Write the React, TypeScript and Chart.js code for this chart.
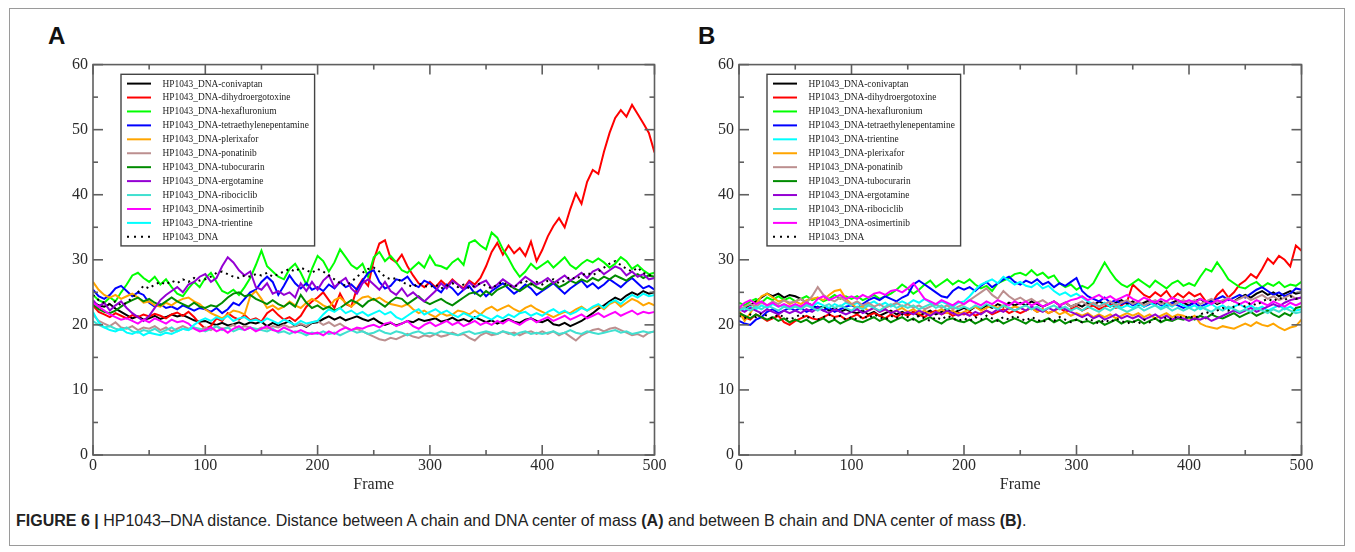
import React, { useEffect, useRef } from "react";
import { Chart, registerables } from "chart.js";

Chart.register(...registerables);

// ---------- categories ----------
const FRAME_STEP = 5;
const frames: number[] = Array.from({ length: 101 }, (_, i) => i * FRAME_STEP);
const xTicks = [0, 100, 200, 300, 400, 500];
const yTicks = [0, 10, 20, 30, 40, 50, 60];

// ---------- Panel A series (frames 0..500 step 5) ----------
const aConivaptan = [
  23.5, 23.0, 22.8, 23.2, 22.5, 22.0, 21.5, 21.0, 21.3, 20.8,
  21.0, 21.4, 20.9, 21.2, 21.6, 21.3, 21.5, 21.1, 20.7, 20.5,
  20.6, 20.2, 20.0, 20.3, 19.9, 20.1, 20.4, 20.0, 20.4, 20.2,
  20.5, 19.8, 20.3, 19.9, 20.2, 20.6, 19.8, 20.1, 19.7, 20.3,
  20.4, 20.9, 21.3, 20.8, 21.2, 20.7, 21.0, 21.3, 20.9, 20.6,
  21.0, 20.4, 20.0, 20.3, 19.9, 20.2, 20.6, 20.4, 20.9, 20.6,
  20.8, 21.0, 20.5, 20.7, 21.1, 20.6, 20.9, 20.5, 21.2, 20.8,
  20.4, 20.7, 20.2, 20.6, 20.9, 20.5, 20.3, 20.8, 21.0, 20.6,
  20.4, 20.8, 20.1, 19.9, 20.3, 19.8, 20.2, 20.6, 21.2, 21.8,
  22.5, 23.0, 23.6, 24.2, 23.8, 24.5, 25.0, 24.6, 25.2, 24.8,
  25.0,
];
const aDihydroergotoxine = [
  23.0, 22.0, 21.6, 21.2, 21.8, 21.4, 21.0, 21.5, 21.2, 21.6,
  21.3, 21.7, 21.4, 21.0, 21.6, 21.9, 21.4, 22.0, 21.2, 20.2,
  19.4, 19.8, 21.0, 20.6, 21.8, 21.2, 20.8, 21.5, 20.7, 21.0,
  20.5, 21.8, 22.4, 21.5, 20.8, 21.2, 20.6, 21.4, 22.8, 23.6,
  24.2, 25.0, 23.8, 22.6, 24.8, 23.2, 22.8, 25.6, 27.0, 26.0,
  30.0, 32.5, 33.0, 30.2, 29.6, 30.8, 29.0, 27.6, 26.4, 25.8,
  26.6, 25.8, 26.8, 26.0, 27.0, 26.2, 25.6, 26.8, 26.2, 27.2,
  29.0, 31.2, 32.6, 30.8, 32.2, 31.0, 31.8, 30.6, 32.8, 29.8,
  31.5, 33.6, 35.2, 36.4, 35.0, 37.8, 40.2, 38.6, 42.0, 43.8,
  43.2, 46.6, 49.5, 51.8, 53.0, 52.0, 53.8, 52.4, 51.0, 49.5,
  46.5,
];
const aHexafluronium = [
  24.6, 23.8, 23.4, 24.2, 23.6, 25.0, 26.2, 27.6, 28.0, 27.2,
  26.6, 27.4, 26.2, 27.0, 25.8, 24.8, 24.4, 25.6, 26.6, 25.8,
  27.2, 28.0, 26.6, 25.2, 24.8, 25.4, 24.6, 25.8, 27.2, 29.2,
  31.4, 29.0, 28.2, 27.4, 27.0, 28.6, 29.4, 28.0, 26.2, 28.6,
  30.6, 29.8, 28.2, 29.6, 31.6, 30.4, 29.2, 28.6, 29.4, 27.4,
  30.4, 31.2, 29.8, 30.6, 29.6, 28.4, 28.0, 28.8, 29.6, 28.8,
  30.6, 29.2, 29.0, 28.6, 29.6, 30.2, 29.2, 32.6, 33.0, 32.2,
  31.6, 34.2, 33.4, 31.6, 30.2, 28.6, 27.4, 28.2, 29.4, 28.6,
  29.2, 29.8, 28.8, 29.6, 30.4, 29.2, 28.6, 29.4, 30.0, 29.6,
  30.2, 29.6, 28.8, 29.4, 30.4, 29.8, 28.6, 29.2, 28.4, 27.8,
  28.0,
];
const aTetraethylenepentamine = [
  25.4, 24.4, 24.0, 24.6, 25.6, 26.0, 25.2, 24.4, 25.0, 24.6,
  23.4, 22.8, 23.2, 22.6, 22.8, 22.4, 23.0, 22.6, 22.2, 22.6,
  22.4, 22.0, 22.6, 21.8, 22.4, 23.4, 23.0, 24.0, 25.0, 25.4,
  26.6, 27.4, 26.6, 24.6, 26.0, 27.6, 26.4, 25.6, 26.4, 25.4,
  25.8, 25.2, 26.2, 25.6, 26.6, 25.8, 26.2, 25.4, 26.8, 28.0,
  28.4, 26.6, 25.6, 26.0, 27.0, 26.8, 27.4, 26.2, 25.8, 26.8,
  26.4, 25.6, 25.0, 26.2, 25.6, 24.6, 25.4, 26.0, 24.8, 25.4,
  24.4, 25.2, 25.8, 26.4, 25.6, 24.8, 25.4, 26.2, 25.6, 24.6,
  25.2, 25.8, 26.4, 25.6, 24.8, 25.6, 26.2, 26.8, 25.8, 26.4,
  25.6, 26.2, 27.0, 26.4, 25.8, 26.6, 27.2, 26.4, 25.6, 26.0,
  25.4,
];
const aPlerixafor = [
  26.6, 25.4, 24.6, 24.2, 24.6, 24.0, 24.4, 24.8, 24.2, 23.4,
  23.6, 23.0, 22.8, 23.4, 23.0, 23.6, 24.0, 24.2, 23.6, 23.2,
  22.4, 21.8, 21.4, 21.0, 21.6, 22.2, 22.0, 21.6, 24.4, 25.2,
  24.0, 22.6, 23.0, 22.4, 22.8, 23.6, 23.0, 22.6, 23.4, 24.0,
  23.6, 23.0, 22.6, 23.8, 24.2, 23.4, 22.8, 23.6, 24.2, 24.4,
  23.8, 24.2, 23.6, 23.2, 23.0, 22.8, 23.2, 22.4, 21.8, 22.2,
  21.6, 21.2, 21.8, 21.4, 21.6, 22.2, 22.0, 21.6, 22.2, 21.6,
  22.4, 22.8, 22.2, 22.6, 23.0, 22.4, 22.0, 22.6, 23.0, 22.4,
  22.0, 21.6, 21.2, 21.6, 22.0, 21.8, 22.4, 22.8, 22.2, 22.6,
  23.0, 22.4, 23.2, 23.6, 22.8, 23.4, 24.0, 23.6, 23.0, 23.4,
  23.0,
];
const aPonatinib = [
  21.6, 20.6, 20.2, 19.8, 20.4, 19.6, 19.4, 19.8, 19.2, 19.6,
  19.4, 19.8, 19.2, 19.6, 19.0, 19.4, 19.8, 19.4, 19.6, 19.2,
  19.6, 19.2, 19.8, 19.4, 19.6, 20.0, 19.4, 19.8, 19.6, 19.2,
  19.6, 19.4, 19.8, 19.6, 20.0, 19.6, 19.8, 20.2, 19.8, 20.4,
  20.6, 20.0, 20.4, 19.8, 20.2, 19.6, 19.2, 19.4, 19.0, 18.6,
  18.2, 17.8, 17.6, 18.0, 17.8, 18.2, 18.6, 18.2, 18.0, 18.4,
  18.2, 18.6, 18.2, 18.4, 18.8, 18.4, 18.6, 18.0, 17.6, 18.4,
  18.8, 18.4, 18.6, 19.0, 18.6, 18.8, 18.4, 18.8, 19.0, 18.6,
  19.0, 18.6, 19.0, 18.4, 18.8, 18.2, 17.6, 18.4, 18.8, 19.2,
  19.4, 19.0, 19.4, 19.6, 19.2, 18.8, 18.4, 18.6, 18.2, 18.8,
  19.0,
];
const aTubocurarin = [
  23.2, 22.4, 22.0, 21.8, 22.2, 22.8, 23.4, 23.8, 24.2, 23.6,
  24.0, 23.4, 23.0, 23.6, 24.2, 23.6, 23.2, 22.8, 23.4, 22.8,
  22.6, 23.0, 22.8, 23.4, 24.2, 24.8, 25.0, 24.4, 24.6, 24.0,
  23.6, 23.2, 23.8, 23.2, 22.8, 23.4, 22.8, 24.6, 23.4, 22.6,
  23.0, 22.4, 22.8, 22.2, 22.6, 23.2, 23.8, 23.4, 22.8, 23.6,
  24.0, 23.4, 22.8, 23.6, 24.2, 24.0, 23.2, 23.8, 24.4, 23.6,
  23.2, 23.6, 24.0, 23.4, 23.0, 23.6, 24.2, 24.8, 25.0, 24.4,
  25.2, 24.6, 25.4, 25.8, 26.2, 25.6, 25.2, 25.8, 26.4, 25.8,
  25.4, 26.0, 26.6, 25.8, 26.2, 26.8, 26.4, 27.0, 26.6, 27.2,
  26.8, 27.4, 27.0, 27.6, 27.2, 26.8, 27.4, 27.8, 27.2, 27.6,
  27.4,
];
const aErgotamine = [
  23.8, 22.8, 23.4, 22.2, 23.0, 23.6, 22.6, 21.8, 21.2, 20.6,
  21.4, 22.6, 23.8, 24.6, 25.2, 25.8, 25.0, 26.2, 26.6, 27.4,
  27.8, 26.6, 27.2, 29.0, 30.4, 29.6, 28.4, 27.6, 28.2, 25.8,
  25.4, 26.4, 24.8, 25.2, 24.6, 25.0, 24.2, 26.4, 25.2, 26.6,
  25.4, 26.8, 27.6, 25.8, 26.6, 27.2, 25.6, 24.8, 26.4, 27.0,
  26.2, 25.4, 26.6, 25.2, 24.6, 25.6, 24.4, 25.0, 24.2, 23.6,
  24.4, 25.2, 26.4, 25.6, 26.8, 26.2, 25.4, 26.6, 25.8, 26.4,
  26.8, 25.6, 26.2, 27.0, 26.4, 25.8, 26.6, 27.4, 26.8, 26.2,
  26.6, 27.2, 26.4, 27.0, 27.6, 26.8, 27.4, 28.0, 27.2, 28.2,
  28.6, 27.8, 28.4, 29.0, 28.6, 27.6, 28.2, 27.4, 27.8, 27.0,
  27.2,
];
const aRibociclib = [
  20.6, 20.0, 19.6, 19.8, 19.4, 19.2, 19.6, 19.0, 18.8, 19.2,
  19.0, 19.4, 18.8, 19.2, 19.6, 19.0, 19.4, 19.2, 19.6, 19.4,
  19.0, 19.4, 19.8, 19.2, 19.6, 19.0, 19.4, 19.2, 19.6, 19.4,
  19.2, 19.0, 19.4, 18.8, 19.0, 18.6, 19.0, 18.8, 18.4, 18.8,
  18.6, 19.0, 18.6, 18.8, 18.4, 18.8, 19.2, 18.8, 19.0, 18.6,
  18.8, 19.2, 18.8, 18.6, 19.0, 18.8, 18.4, 18.8, 19.0, 18.6,
  18.8, 18.6, 19.0, 18.8, 18.6, 18.4, 18.8, 19.0, 18.6, 18.8,
  19.0, 18.8, 18.6, 19.0, 18.8, 18.4, 18.8, 19.0, 18.6, 18.8,
  18.6, 18.8, 19.0, 18.6, 18.8, 19.2, 18.8, 18.6, 19.0, 18.8,
  18.6, 18.8, 19.0, 19.2, 18.8, 19.0, 18.6, 18.8, 19.0, 18.8,
  19.0,
];
const aOsimertinib = [
  23.4, 22.8, 22.2, 21.6, 21.2, 20.8, 21.0, 20.6, 20.2, 20.8,
  20.4, 21.0, 20.6, 20.2, 20.8, 20.4, 20.6, 20.2, 19.4, 19.0,
  19.2, 19.6, 19.0, 19.4, 18.8, 19.4, 19.8, 19.2, 19.6, 19.0,
  19.4, 19.8, 19.2, 19.0, 19.6, 19.2, 18.8, 19.2, 18.8, 18.6,
  18.8, 18.4, 19.0, 18.6, 19.2, 19.6, 19.2, 19.6, 19.4, 19.8,
  20.0, 19.6, 20.2, 20.4, 19.8, 20.2, 20.6, 19.8, 19.4, 20.0,
  20.4, 19.8, 20.2, 20.6, 20.0, 20.4, 19.8, 20.2, 20.6, 20.0,
  20.4, 20.0, 20.6, 20.2, 20.8, 20.4, 20.0, 20.6, 21.0, 20.4,
  20.8, 21.2, 20.6, 21.0, 21.4, 20.8, 21.2, 21.6, 21.0, 21.4,
  21.8, 21.2, 21.6, 22.0, 21.4, 21.8, 22.2, 21.6, 22.0, 21.8,
  22.0,
];
const aTrientine = [
  22.0, 20.4, 19.6, 19.2, 19.0, 19.4, 18.8, 18.6, 19.0, 18.4,
  18.8, 18.6, 18.4, 18.8, 18.6, 19.0, 19.4, 19.2, 20.0, 20.6,
  21.0, 20.6, 21.2, 20.8, 21.4, 20.6, 21.0, 21.2, 20.6, 20.8,
  20.4, 21.0, 20.6, 20.2, 20.8, 20.4, 20.0, 20.6, 20.2, 20.4,
  20.6, 21.6, 22.4, 22.0, 22.6, 21.8, 22.2, 21.6, 22.0, 21.4,
  21.8, 22.2, 21.6, 22.0, 21.2, 20.8, 21.4, 22.0, 22.4, 21.6,
  22.0, 22.4, 21.8, 22.2, 21.6, 21.2, 21.8, 21.4, 21.0, 21.6,
  21.2, 20.8, 21.4, 21.0, 21.6, 21.2, 21.8, 22.0, 21.4, 21.8,
  21.4, 22.0, 22.4, 21.8, 22.2, 21.6, 22.0, 22.6, 22.2, 22.8,
  23.2, 22.6, 23.4, 23.8, 23.2, 24.0, 24.6, 24.2, 24.8, 24.4,
  24.6,
];
const aDNA = [
  24.6, 23.8, 23.4, 23.2, 23.6, 23.0, 23.4, 24.2, 25.0, 26.0,
  25.6, 26.2, 26.6, 26.2, 26.8, 26.4, 27.0, 26.6, 27.2, 26.8,
  27.0, 27.4, 28.0, 28.2, 27.8, 27.4, 27.2, 27.6, 27.4, 27.8,
  27.6, 28.0, 27.4, 27.8, 28.2, 28.6, 28.2, 28.8, 28.4, 28.0,
  28.6, 28.2, 27.6, 27.0, 26.4, 26.0, 26.6, 27.4, 28.0, 28.6,
  28.8, 28.2, 27.4, 27.0, 27.2, 26.6, 26.2, 25.8, 26.4, 26.0,
  25.8, 26.2, 25.6, 26.0, 26.4, 25.8, 26.2, 25.6, 26.0, 26.4,
  26.0, 25.6, 26.2, 26.6, 26.0, 25.8, 26.4, 26.8, 26.2, 26.6,
  26.2, 26.8, 27.0, 26.4, 26.8, 27.4, 27.0, 27.6, 28.0, 27.6,
  28.2, 28.8, 29.4, 29.8, 29.2, 28.6, 28.2, 28.8, 28.0, 27.6,
  27.8,
];

// ---------- Panel B series (frames 0..500 step 5) ----------
const bConivaptan = [
  22.2, 22.6, 23.0, 23.6, 24.2, 24.8, 24.4, 24.8, 24.2, 24.6,
  24.4, 24.0, 23.4, 23.0, 22.6, 22.8, 22.2, 22.6, 22.0, 22.4,
  22.0, 21.8, 22.2, 21.6, 22.0, 21.4, 21.8, 22.2, 21.6, 22.0,
  21.6, 22.0, 21.4, 21.8, 22.2, 21.6, 22.0, 22.4, 21.8, 22.2,
  22.6, 22.2, 22.8, 22.4, 23.0, 22.6, 23.2, 22.8, 23.4, 23.0,
  23.4, 23.0, 23.6, 23.2, 22.8, 23.2, 23.6, 23.0, 23.4, 22.8,
  23.2, 22.8, 23.4, 23.0, 23.6, 23.2, 22.8, 23.4, 23.8, 23.2,
  23.6, 23.0, 23.4, 23.8, 23.2, 23.6, 23.0, 23.4, 23.8, 23.4,
  23.0, 23.6, 24.0, 23.4, 23.8, 23.2, 23.6, 24.0, 23.6, 24.2,
  24.6, 24.2, 24.8, 25.2, 24.6, 25.0, 24.4, 24.8, 25.2, 24.8,
  25.0,
];
const bDihydroergotoxine = [
  22.0, 21.2, 20.8, 21.6, 21.2, 20.6, 21.0, 21.4, 20.4, 20.0,
  20.6, 21.0, 21.4, 21.0, 20.8, 21.2, 21.6, 21.2, 21.4, 20.8,
  21.2, 21.6, 21.0, 21.4, 21.8, 21.4, 21.0, 21.6, 21.2, 21.8,
  21.4, 22.0, 21.6, 21.2, 21.8, 22.2, 21.6, 22.0, 21.4, 21.8,
  21.6, 22.0, 21.4, 21.8, 22.2, 21.6, 22.0, 22.4, 21.8, 22.2,
  21.8, 22.2, 22.6, 22.0, 22.4, 21.8, 22.2, 22.6, 22.0, 22.4,
  22.8, 22.2, 22.6, 23.0, 22.4, 22.8, 23.2, 22.6, 23.0, 23.6,
  26.2, 25.4, 24.6, 24.2, 25.0, 24.4, 25.2, 24.0, 24.8, 24.2,
  25.0, 24.4, 24.8, 23.6, 23.2, 24.6, 25.4, 24.2, 25.0, 26.2,
  26.8, 27.8, 27.2, 28.6, 30.2, 29.4, 30.6, 30.0, 29.0, 32.2,
  31.4,
];
const bHexafluronium = [
  23.4, 23.0, 23.6, 24.0, 23.4, 24.2, 23.8, 24.4, 23.8, 24.2,
  23.6, 24.0, 24.4, 23.8, 24.2, 23.6, 24.0, 24.6, 24.0, 24.4,
  24.0, 24.4, 23.8, 24.2, 24.6, 24.0, 24.4, 24.8, 25.4, 26.2,
  25.6, 24.8, 25.4, 26.2, 26.8, 25.8, 26.4, 27.0, 26.2, 26.8,
  26.4, 27.0, 26.2, 25.6, 26.0, 25.2, 26.4, 26.8, 27.2, 27.8,
  28.0, 27.6, 28.4, 27.6, 28.0, 27.2, 27.6, 26.4, 25.8, 26.2,
  25.4, 26.0, 25.6, 26.4, 28.0, 29.6, 28.2, 27.0, 26.2, 25.8,
  26.4, 27.0, 26.4, 25.8, 26.8, 26.2, 25.6, 26.4, 26.8, 26.0,
  26.4, 26.0, 27.4, 28.6, 28.2, 29.6, 28.4, 27.0, 26.4, 25.8,
  25.6, 26.2, 26.6, 25.8, 26.4, 26.0, 26.6, 25.8, 26.2, 26.0,
  26.6,
];
const bTetraethylenepentamine = [
  20.6, 20.2, 20.0, 20.8, 21.2, 22.0, 22.4, 21.8, 22.2, 22.6,
  22.2, 22.6, 22.0, 22.4, 22.8, 22.2, 22.6, 22.0, 22.4, 22.8,
  23.0, 22.6, 23.2, 23.8, 24.2, 23.8, 24.4, 24.0, 23.6, 24.2,
  24.6, 26.2, 26.8, 26.2, 25.6, 25.0, 24.4, 24.2, 25.2, 25.8,
  25.4, 25.8, 25.2, 26.0, 26.6, 25.8, 26.4, 27.0, 27.4, 26.6,
  26.2, 26.8, 26.4, 27.0, 26.2, 26.6, 25.8, 26.4, 26.0, 26.6,
  27.2, 25.2, 24.4, 24.0, 23.6, 24.2, 23.4, 23.8, 23.2, 23.6,
  23.0, 23.4, 22.8, 23.2, 23.6, 23.0, 22.8, 23.4, 23.0, 22.6,
  23.0, 23.4, 22.8, 23.2, 23.6, 24.0, 24.4, 23.8, 24.2, 24.6,
  24.2, 24.8, 25.4, 25.8, 25.2, 24.6, 25.0, 24.4, 24.8, 25.6,
  25.4,
];
const bTrientine = [
  22.6, 22.2, 22.8, 22.4, 23.0, 22.6, 23.2, 22.8, 23.0, 22.6,
  23.0, 22.6, 23.2, 22.8, 23.4, 23.0, 22.6, 23.2, 22.8, 23.4,
  23.0, 23.4, 22.8, 23.2, 23.6, 23.0, 23.4, 22.8, 23.2, 23.6,
  23.2, 23.8, 23.4, 24.0, 23.4, 23.0, 23.6, 23.2, 22.8, 23.4,
  23.6, 24.4, 25.4, 26.2, 26.6, 27.0, 26.4, 27.4, 26.8, 26.2,
  26.6, 26.0, 25.8, 26.4, 25.6, 26.0, 25.2, 24.6, 25.0, 24.4,
  24.8, 24.2, 23.6, 23.2, 22.8, 23.4, 22.8, 23.2, 22.6, 23.0,
  22.6, 23.2, 22.8, 23.4, 23.0, 22.6, 23.2, 22.8, 23.4, 23.0,
  22.6, 23.0, 22.4, 22.8, 23.2, 22.6, 23.0, 22.4, 22.8, 23.2,
  22.6, 23.0, 22.4, 22.8, 22.2, 22.6, 23.0, 22.4, 22.8, 22.2,
  22.4,
];
const bPlerixafor = [
  22.0, 20.6, 21.8, 23.2, 24.4, 24.8, 24.2, 23.6, 23.8, 23.2,
  23.6, 23.2, 23.8, 24.0, 24.2, 23.8, 24.6, 25.2, 25.4, 24.0,
  23.2, 22.6, 22.8, 22.2, 22.6, 22.0, 22.4, 21.8, 22.2, 22.6,
  22.0, 22.4, 21.8, 22.2, 21.6, 22.0, 22.4, 21.8, 22.2, 21.6,
  22.0, 22.4, 22.8, 22.2, 22.6, 23.0, 22.6, 23.0, 22.4, 22.8,
  22.6, 22.2, 22.6, 22.0, 22.4, 21.8, 22.2, 21.6, 22.0, 21.4,
  21.8, 21.4, 21.8, 21.2, 21.6, 21.2, 21.6, 21.0, 21.4, 21.8,
  21.4, 21.8, 21.2, 21.6, 21.0, 21.4, 21.8, 21.2, 21.6, 21.4,
  21.0, 21.4, 20.2, 19.8, 19.6, 19.4, 19.8, 19.6, 19.4, 19.8,
  20.2, 19.8, 20.4, 20.0, 19.8, 20.2, 19.6, 19.2, 19.6, 19.8,
  20.8,
];
const bPonatinib = [
  22.4, 22.8, 23.2, 22.8, 23.4, 23.0, 23.6, 23.2, 23.8, 23.4,
  23.6, 24.0, 23.4, 24.4, 25.8, 24.6, 24.0, 23.6, 24.2, 23.6,
  23.2, 23.6, 23.0, 23.4, 22.8, 23.2, 22.6, 23.0, 23.4, 22.8,
  23.2, 22.6, 23.0, 22.4, 22.8, 23.2, 22.6, 23.0, 22.4, 22.8,
  23.2, 23.8, 24.4, 25.0, 25.6, 24.6, 24.0, 25.2, 24.4, 23.8,
  24.2, 23.6, 24.0, 23.4, 23.8, 23.2, 23.6, 23.0, 23.4, 22.8,
  23.2, 23.6, 23.0, 23.4, 22.8, 23.2, 23.6, 23.0, 23.4, 23.8,
  23.2, 23.6, 23.0, 23.4, 23.8, 23.2, 23.6, 23.0, 23.4, 23.8,
  23.4, 23.8, 23.2, 23.6, 24.0, 23.4, 23.8, 24.2, 23.6, 24.0,
  24.4, 23.8, 24.2, 24.6, 24.0, 24.4, 23.8, 24.2, 24.6, 24.0,
  24.2,
];
const bTubocurarin = [
  21.8, 21.4, 21.0, 21.6, 21.2, 20.8, 21.2, 20.6, 21.0, 20.4,
  20.8, 20.4, 20.8, 20.2, 20.6, 21.0, 20.4, 20.8, 20.2, 20.6,
  21.0, 20.6, 20.4, 20.8, 21.2, 20.6, 21.0, 20.4, 20.8, 21.2,
  20.6, 21.0, 20.4, 20.8, 21.2, 20.6, 20.2, 20.8, 21.0, 20.6,
  20.4, 20.8, 20.2, 20.6, 21.0, 20.4, 20.8, 20.2, 20.6, 21.0,
  20.6, 20.2, 20.8, 20.4, 20.6, 21.0, 20.4, 20.8, 20.2, 20.6,
  20.8, 20.4, 20.6, 20.2, 20.6, 20.0, 20.4, 20.8, 20.2, 20.6,
  20.4, 20.8, 20.2, 20.6, 21.0, 20.4, 20.8, 20.6, 21.0, 20.8,
  21.2, 20.8, 21.4, 21.0, 21.6, 21.2, 21.0, 21.4, 21.8, 21.2,
  21.6, 22.0, 21.4, 21.8, 22.2, 21.6, 21.2, 21.8, 21.4, 22.6,
  22.8,
];
const bErgotamine = [
  22.4, 22.0, 22.6, 22.2, 21.8, 22.4, 22.0, 21.6, 22.2, 21.8,
  22.2, 21.8, 22.4, 22.0, 22.6, 22.2, 21.8, 22.4, 22.0, 21.6,
  22.0, 22.4, 21.8, 22.2, 22.6, 22.0, 22.4, 21.8, 22.2, 21.6,
  22.0, 21.6, 22.2, 21.8, 21.4, 22.0, 21.6, 22.2, 21.8, 21.4,
  21.8, 21.4, 22.0, 21.6, 22.2, 21.8, 22.4, 22.0, 22.6, 22.2,
  22.6, 22.2, 22.8, 22.4, 22.0, 22.6, 22.2, 22.8, 22.4, 22.0,
  21.6, 21.2, 21.6, 21.0, 21.4, 20.8, 21.2, 21.6, 21.0, 21.4,
  21.0, 21.4, 20.8, 21.2, 21.6, 21.0, 21.4, 20.8, 21.2, 21.0,
  20.6, 21.0, 20.8, 21.2, 20.6, 21.0, 21.4, 21.8, 22.2, 21.8,
  22.2, 22.6, 22.0, 22.4, 22.8, 23.2, 22.8, 23.4, 23.8, 24.0,
  24.2,
];
const bRibociclib = [
  22.2, 22.6, 22.2, 22.8, 22.4, 23.0, 22.6, 22.2, 22.8, 22.4,
  22.8, 22.4, 23.0, 22.6, 22.2, 22.8, 23.2, 22.6, 23.0, 22.6,
  22.2, 22.8, 22.4, 23.0, 22.6, 22.2, 22.8, 23.2, 22.6, 23.0,
  22.6, 23.0, 22.4, 22.8, 23.2, 22.6, 23.0, 22.4, 22.8, 22.4,
  22.8, 22.4, 23.0, 22.6, 23.2, 22.8, 22.4, 23.0, 22.6, 22.2,
  22.6, 23.0, 22.4, 22.8, 22.2, 22.6, 23.0, 22.4, 22.8, 22.2,
  22.6, 22.2, 22.8, 22.4, 22.0, 22.6, 22.2, 22.8, 22.4, 22.0,
  22.4, 22.8, 22.2, 22.6, 23.0, 22.4, 22.8, 22.2, 22.6, 22.2,
  22.6, 22.2, 22.8, 22.4, 22.0, 22.6, 22.2, 22.8, 22.4, 22.0,
  22.4, 22.0, 22.6, 22.2, 21.8, 22.4, 22.0, 22.6, 22.2, 21.8,
  22.0,
];
const bOsimertinib = [
  22.6, 23.4, 23.8, 23.2, 23.6, 23.0, 23.4, 22.8, 23.2, 22.8,
  23.2, 22.8, 23.4, 23.0, 24.0, 24.4, 23.8, 24.2, 24.6, 24.0,
  24.4, 24.0, 24.6, 24.2, 24.8, 25.0, 24.6, 25.2, 25.4, 25.0,
  25.6, 26.4, 25.2, 24.0, 23.6, 23.2, 23.8, 23.4, 23.0, 23.6,
  23.2, 23.8, 23.4, 23.0, 23.6, 23.2, 23.8, 23.4, 23.0, 23.6,
  23.2, 23.6, 23.0, 23.4, 22.8, 23.2, 23.6, 23.0, 23.4, 23.8,
  24.0, 24.4, 23.8, 24.2, 24.6, 24.0, 24.4, 23.8, 24.2, 24.6,
  24.0, 23.6, 24.2, 23.8, 23.4, 24.0, 23.6, 24.2, 23.8, 23.4,
  23.8, 23.4, 24.0, 23.6, 23.2, 23.8, 23.4, 24.0, 23.6, 23.2,
  23.6, 23.2, 23.8, 23.4, 23.0, 23.6, 23.2, 22.8, 23.4, 23.0,
  23.4,
];
const bDNA = [
  21.4, 21.0, 21.6, 21.2, 21.8, 21.4, 21.0, 21.6, 21.2, 20.8,
  21.2, 21.6, 21.0, 21.4, 20.8, 21.2, 21.6, 21.0, 21.4, 20.8,
  21.2, 20.8, 21.4, 21.0, 21.6, 21.2, 20.8, 21.4, 21.0, 21.6,
  21.2, 20.8, 21.4, 21.0, 20.6, 21.2, 20.8, 21.4, 21.0, 20.6,
  21.0, 20.6, 21.2, 20.8, 21.4, 21.0, 20.6, 21.2, 20.8, 21.4,
  21.0, 20.6, 21.2, 20.8, 20.4, 21.0, 20.6, 21.2, 20.8, 20.4,
  20.8, 20.4, 21.0, 20.6, 20.2, 20.8, 20.4, 21.0, 20.6, 20.2,
  20.6, 20.2, 20.8, 20.4, 21.0, 20.6, 21.2, 20.8, 21.4, 21.0,
  21.4, 21.0, 21.6, 22.0, 21.6, 22.2, 22.6, 22.2, 22.8, 23.2,
  22.8, 23.4, 23.0, 23.6, 24.0, 23.6, 24.2, 23.8, 24.4, 24.0,
  24.2,
];

// ---------- series names & colours ----------
const C = {
  conivaptan: "#000000",
  dihydroergotoxine: "#ff0000",
  hexafluronium: "#00ff00",
  tetraethylenepentamine: "#0000ff",
  plerixafor: "#ffa500",
  ponatinib: "#bc8f8f",
  tubocurarin: "#008b00",
  ergotamine: "#9400d3",
  ribociclib: "#40e0d0",
  osimertinib: "#ff00ff",
  trientine: "#00ffff",
  dna: "#000000",
};

type S = { label: string; color: string; data: number[]; dotted?: boolean };

const seriesA: S[] = [
  { label: "HP1043_DNA-conivaptan", color: C.conivaptan, data: aConivaptan },
  { label: "HP1043_DNA-dihydroergotoxine", color: C.dihydroergotoxine, data: aDihydroergotoxine },
  { label: "HP1043_DNA-hexafluronium", color: C.hexafluronium, data: aHexafluronium },
  { label: "HP1043_DNA-tetraethylenepentamine", color: C.tetraethylenepentamine, data: aTetraethylenepentamine },
  { label: "HP1043_DNA-plerixafor", color: C.plerixafor, data: aPlerixafor },
  { label: "HP1043_DNA-ponatinib", color: C.ponatinib, data: aPonatinib },
  { label: "HP1043_DNA-tubocurarin", color: C.tubocurarin, data: aTubocurarin },
  { label: "HP1043_DNA-ergotamine", color: C.ergotamine, data: aErgotamine },
  { label: "HP1043_DNA-ribociclib", color: C.ribociclib, data: aRibociclib },
  { label: "HP1043_DNA-osimertinib", color: C.osimertinib, data: aOsimertinib },
  { label: "HP1043_DNA-trientine", color: C.trientine, data: aTrientine },
  { label: "HP1043_DNA", color: C.dna, data: aDNA, dotted: true },
];

const seriesB: S[] = [
  { label: "HP1043_DNA-conivaptan", color: C.conivaptan, data: bConivaptan },
  { label: "HP1043_DNA-dihydroergotoxine", color: C.dihydroergotoxine, data: bDihydroergotoxine },
  { label: "HP1043_DNA-hexafluronium", color: C.hexafluronium, data: bHexafluronium },
  { label: "HP1043_DNA-tetraethylenepentamine", color: C.tetraethylenepentamine, data: bTetraethylenepentamine },
  { label: "HP1043_DNA-trientine", color: C.trientine, data: bTrientine },
  { label: "HP1043_DNA-plerixafor", color: C.plerixafor, data: bPlerixafor },
  { label: "HP1043_DNA-ponatinib", color: C.ponatinib, data: bPonatinib },
  { label: "HP1043_DNA-tubocurarin", color: C.tubocurarin, data: bTubocurarin },
  { label: "HP1043_DNA-ergotamine", color: C.ergotamine, data: bErgotamine },
  { label: "HP1043_DNA-ribociclib", color: C.ribociclib, data: bRibociclib },
  { label: "HP1043_DNA-osimertinib", color: C.osimertinib, data: bOsimertinib },
  { label: "HP1043_DNA", color: C.dna, data: bDNA, dotted: true },
];

const SERIF = '"Liberation Serif", "Times New Roman", serif';
const AXIS_COLOR = "#5f5f5f";
const TEXT_COLOR = "#2a2a2a";

// frame, inward ticks and boxed legend (xmgrace style)
const gracePlugin = {
  id: "grace",
  afterDatasetsDraw(chart: any) {
    const { ctx, chartArea, scales } = chart;
    const { left, right, top, bottom } = chartArea;
    const x = scales.x;
    const y = scales.y;
    ctx.save();
    ctx.strokeStyle = AXIS_COLOR;
    ctx.lineWidth = 1.6;
    ctx.setLineDash([]);
    ctx.strokeRect(left, top, right - left, bottom - top);
    const seg = (x1: number, y1: number, x2: number, y2: number) => {
      ctx.beginPath();
      ctx.moveTo(x1, y1);
      ctx.lineTo(x2, y2);
      ctx.stroke();
    };
    for (let v = 0; v <= 500; v += 50) {
      const px = x.getPixelForValue(v);
      const len = v % 100 === 0 ? 10 : 5;
      seg(px, bottom, px, bottom - len);
      seg(px, top, px, top + len);
    }
    for (let v = 0; v <= 60; v += 5) {
      const py = y.getPixelForValue(v);
      const len = v % 10 === 0 ? 10 : 5;
      seg(left, py, left + len, py);
      seg(right, py, right - len, py);
    }

    // legend box
    const bx = left + 28;
    const by = top + 9.7;
    const bw = 193.6;
    const bh = 171.6;
    ctx.fillStyle = "#ffffff";
    ctx.fillRect(bx, by, bw, bh);
    ctx.strokeStyle = "#444444";
    ctx.lineWidth = 1.4;
    ctx.strokeRect(bx, by, bw, bh);
    ctx.font = `9.4px ${SERIF}`;
    ctx.textBaseline = "middle";
    ctx.textAlign = "left";
    chart.data.datasets.forEach((ds: any, i: number) => {
      const ry = by + 9.3 + i * 13.93;
      ctx.strokeStyle = ds.borderColor;
      ctx.lineWidth = 2;
      ctx.setLineDash(ds.borderDash && ds.borderDash.length ? [2, 5] : []);
      seg(bx + 6, ry, bx + 30, ry);
      ctx.setLineDash([]);
      ctx.fillStyle = "#222222";
      ctx.fillText(ds.label, bx + 41.5, ry + 0.5);
    });
    ctx.restore();
  },
};

function buildConfig(series: S[], padRight: number): any {
  const n = series.length;
  return {
    type: "line",
    data: {
      datasets: series.map((s, i) => ({
        label: s.label,
        data: s.data.map((v, k) => ({ x: frames[k], y: v })),
        borderColor: s.color,
        backgroundColor: s.color,
        borderWidth: 2,
        borderDash: s.dotted ? [2, 4] : [],
        pointRadius: 0,
        tension: 0,
        fill: false,
        order: n - i,
      })),
    },
    options: {
      animation: false,
      responsive: false,
      devicePixelRatio: 1,
      layout: { padding: { left: 0, right: padRight, top: 12, bottom: 0 } },
      plugins: { legend: { display: false }, tooltip: { enabled: false } },
      scales: {
        x: {
          type: "linear",
          min: 0,
          max: 500,
          afterBuildTicks: (s: any) => {
            s.ticks = xTicks.map((v) => ({ value: v }));
          },
          grid: { display: false, drawTicks: false },
          border: { display: false },
          ticks: {
            font: { family: SERIF, size: 16 },
            color: TEXT_COLOR,
            padding: 1,
            maxRotation: 0,
            autoSkip: false,
          },
          title: {
            display: true,
            text: "Frame",
            font: { family: SERIF, size: 16 },
            color: TEXT_COLOR,
            padding: { top: 0, bottom: 6 },
          },
          afterFit: (s: any) => {
            s.height = 45;
          },
        },
        y: {
          type: "linear",
          min: 0,
          max: 60,
          afterBuildTicks: (s: any) => {
            s.ticks = yTicks.map((v) => ({ value: v }));
          },
          grid: { display: false, drawTicks: false },
          border: { display: false },
          ticks: {
            font: { family: SERIF, size: 16 },
            color: TEXT_COLOR,
            padding: 5,
            autoSkip: false,
          },
          afterFit: (s: any) => {
            s.width = 73;
          },
        },
      },
    },
    plugins: [gracePlugin],
  };
}

function Panel({ series, left, padRight }: { series: S[]; left: number; padRight: number }) {
  const ref = useRef<HTMLCanvasElement | null>(null);
  useEffect(() => {
    if (!ref.current) return;
    const chart = new Chart(ref.current, buildConfig(series, padRight));
    return () => chart.destroy();
  }, [series, padRight]);
  return (
    <canvas
      ref={ref}
      width={660}
      height={450}
      style={{ position: "absolute", left, top: 50, width: 660, height: 450 }}
    />
  );
}

const CAPTION_BOLD = "FIGURE 6 |";
const CAPTION_TEXT = " HP1043–DNA distance. Distance between A chain and DNA center of mass ";
const CAPTION_MID = " and between B chain and DNA center of mass ";

export default function App() {
  const sans = '"Liberation Sans", Arial, Helvetica, sans-serif';
  return (
    <div
      style={{
        position: "fixed",
        left: 0,
        top: 0,
        width: 1355,
        height: 552,
        background: "#ffffff",
        overflow: "hidden",
      }}
    >
      <div
        style={{
          position: "absolute",
          left: 9,
          top: 8,
          width: 1336,
          height: 538,
          border: "1px solid #9a9a9a",
          boxSizing: "border-box",
        }}
      />
      <div
        style={{
          position: "absolute",
          left: 48,
          top: 23.7,
          fontFamily: sans,
          fontWeight: 700,
          fontSize: 24,
          lineHeight: "24px",
          color: "#111",
        }}
      >
        A
      </div>
      <div
        style={{
          position: "absolute",
          left: 698,
          top: 23.7,
          fontFamily: sans,
          fontWeight: 700,
          fontSize: 24,
          lineHeight: "24px",
          color: "#111",
        }}
      >
        B
      </div>
      <Panel series={seriesA} left={20} padRight={25.5} />
      <Panel series={seriesB} left={666} padRight={24.5} />
      <div
        style={{
          position: "absolute",
          left: 16,
          top: 511,
          fontFamily: sans,
          fontSize: 16,
          lineHeight: "19px",
          color: "#222",
          whiteSpace: "nowrap",
        }}
      >
        <b>{CAPTION_BOLD}</b>
        {CAPTION_TEXT}
        <b>(A)</b>
        {CAPTION_MID}
        <b>(B)</b>.
      </div>
    </div>
  );
}
